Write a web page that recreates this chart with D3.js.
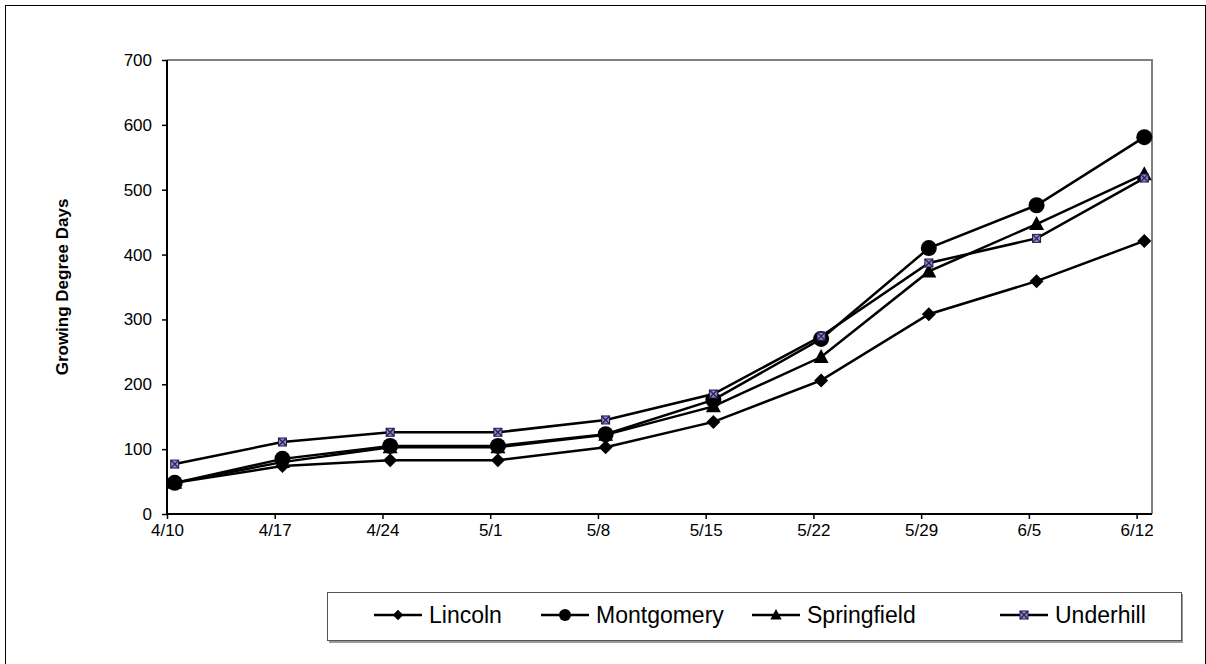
<!DOCTYPE html>
<html>
<head>
<meta charset="utf-8">
<style>
  body { margin: 0; background: #fff; }
  text { font-family: "Liberation Sans", Arial, sans-serif; }
</style>
</head>
<body>
<svg id="chart" width="1206" height="664"></svg>
<script src="https://d3js.org/d3.v7.min.js"></script>
<script>
// dates of the weekly readings
var dates = ["4/10", "4/17", "4/24", "5/1", "5/8", "5/15", "5/22", "5/29", "6/5", "6/12"];

// growing degree days per site
var lincoln     = [48, 74, 83, 83, 103, 142, 206, 308, 359, 421];
var montgomery  = [48, 85, 105, 105, 123, 176, 270, 410, 476, 581];
var springfield = [48, 80, 103, 103, 122, 166, 242, 374, 447, 524];
var underhill   = [77, 111, 126, 126, 145, 185, 274, 387, 425, 518];

var yTicks = [0, 100, 200, 300, 400, 500, 600, 700];

var series = [
  { name: "Lincoln", values: lincoln, marker: "diamond" },
  { name: "Montgomery", values: montgomery, marker: "circle" },
  { name: "Springfield", values: springfield, marker: "triangle" },
  { name: "Underhill", values: underhill, marker: "xsquare" }
];

var parse = d3.timeParse("%Y/%m/%d");
function toDate(s) { return parse("2000/" + s); }
var tickDates = dates.map(toDate);
// points sit half a day past the tick
function pointDate(s) { return d3.timeHour.offset(toDate(s), 12); }

var svg = d3.select("#chart");

// outer frame
svg.append("rect")
  .attr("x", 5.5).attr("y", 5.5)
  .attr("width", 1200).attr("height", 670)
  .attr("fill", "none").attr("stroke", "#000").attr("stroke-width", 1);

var plotLeft = 167, plotRight = 1152, plotTop = 60, plotBottom = 514;

var x = d3.scaleTime()
  .domain([toDate("4/10"), d3.timeDay.offset(toDate("6/12"), 1)])
  .range([plotLeft, plotRight]);

var y = d3.scaleLinear().domain([0, 700]).range([plotBottom, plotTop]);

// plot area top/right border (grey)
svg.append("path")
  .attr("d", "M" + plotLeft + "," + plotTop + "H" + plotRight + "V" + plotBottom)
  .attr("fill", "none").attr("stroke", "#808080").attr("stroke-width", 2);

// y axis
var yAxis = svg.append("g")
  .attr("transform", "translate(" + plotLeft + ",0)")
  .call(d3.axisLeft(y).tickValues(yTicks).tickSize(5).tickPadding(10).tickFormat(d3.format("d")));
yAxis.select(".domain").attr("stroke", "#000").attr("stroke-width", 2)
  .attr("d", "M0," + plotTop + "V" + plotBottom);
yAxis.selectAll(".tick line").attr("stroke", "#000").attr("stroke-width", 1.5);
yAxis.selectAll("text").attr("font-size", 17).attr("fill", "#000")
  .style("font-family", "'Liberation Sans', Arial, sans-serif");

// x axis
var xAxis = svg.append("g")
  .attr("transform", "translate(0," + plotBottom + ")")
  .call(d3.axisBottom(x).tickValues(tickDates).tickSize(5).tickPadding(5)
    .tickFormat(function(d, i) { return dates[i]; }));
xAxis.select(".domain").attr("stroke", "#000").attr("stroke-width", 2)
  .attr("d", "M" + plotLeft + ",0H" + plotRight);
xAxis.selectAll(".tick line").attr("stroke", "#000").attr("stroke-width", 1.5);
xAxis.selectAll("text").attr("font-size", 17).attr("fill", "#000")
  .style("font-family", "'Liberation Sans', Arial, sans-serif");

// y title
svg.append("text")
  .attr("transform", "translate(68," + ((plotTop + plotBottom) / 2) + ") rotate(-90)")
  .attr("text-anchor", "middle")
  .attr("font-size", 17).attr("font-weight", "bold")
  .text("Growing Degree Days");

function drawMarker(g, type, cx, cy, k) {
  k = k || 1;
  if (type === "diamond") {
    var d = 7 * k;
    g.append("path").attr("d", "M" + cx + "," + (cy - d) + "L" + (cx + d) + "," + cy + "L" + cx + "," + (cy + d) + "L" + (cx - d) + "," + cy + "Z")
      .attr("fill", "#000");
  } else if (type === "circle") {
    g.append("circle").attr("cx", cx).attr("cy", cy).attr("r", 8 * k).attr("fill", "#000");
  } else if (type === "triangle") {
    g.append("path").attr("d", "M" + cx + "," + (cy - 8 * k) + "L" + (cx + 7.5 * k) + "," + (cy + 6 * k) + "L" + (cx - 7.5 * k) + "," + (cy + 6 * k) + "Z")
      .attr("fill", "#000");
  } else {
    var h = 4;
    g.append("rect").attr("x", cx - h).attr("y", cy - h).attr("width", 2 * h).attr("height", 2 * h)
      .attr("fill", "#9a86c8").attr("stroke", "#1a1a40").attr("stroke-width", 1);
    g.append("path").attr("d", "M" + (cx - h) + "," + (cy - h) + "L" + (cx + h) + "," + (cy + h) + "M" + (cx + h) + "," + (cy - h) + "L" + (cx - h) + "," + (cy + h))
      .attr("stroke", "#2a1a5a").attr("stroke-width", 1.2);
  }
}

var line = d3.line()
  .x(function(d, i) { return x(pointDate(dates[i])); })
  .y(function(d) { return y(d); });

series.forEach(function(s) {
  var g = svg.append("g");
  g.append("path").datum(s.values)
    .attr("d", line)
    .attr("fill", "none").attr("stroke", "#000").attr("stroke-width", 2.5);
  s.values.forEach(function(v, i) {
    drawMarker(g, s.marker, x(pointDate(dates[i])), y(v));
  });
});

// legend
var legend = svg.append("g");
legend.append("rect")
  .attr("x", 329).attr("y", 594).attr("width", 854).attr("height", 49)
  .attr("fill", "#999");
legend.append("rect")
  .attr("x", 327.5).attr("y", 592.5).attr("width", 854).attr("height", 48)
  .attr("fill", "#fff").attr("stroke", "#555").attr("stroke-width", 1);

var legendX = [374, 541, 752, 1000];
series.forEach(function(s, i) {
  var lx = legendX[i], ly = 615;
  var g = legend.append("g");
  g.append("line").attr("x1", lx).attr("x2", lx + 48).attr("y1", ly).attr("y2", ly)
    .attr("stroke", "#000").attr("stroke-width", 2.5);
  drawMarker(g, s.marker, lx + 24, ly, 0.75);
  g.append("text").attr("x", lx + 55).attr("y", ly + 8)
    .attr("font-size", 23).text(s.name);
});
</script>
</body>
</html>
